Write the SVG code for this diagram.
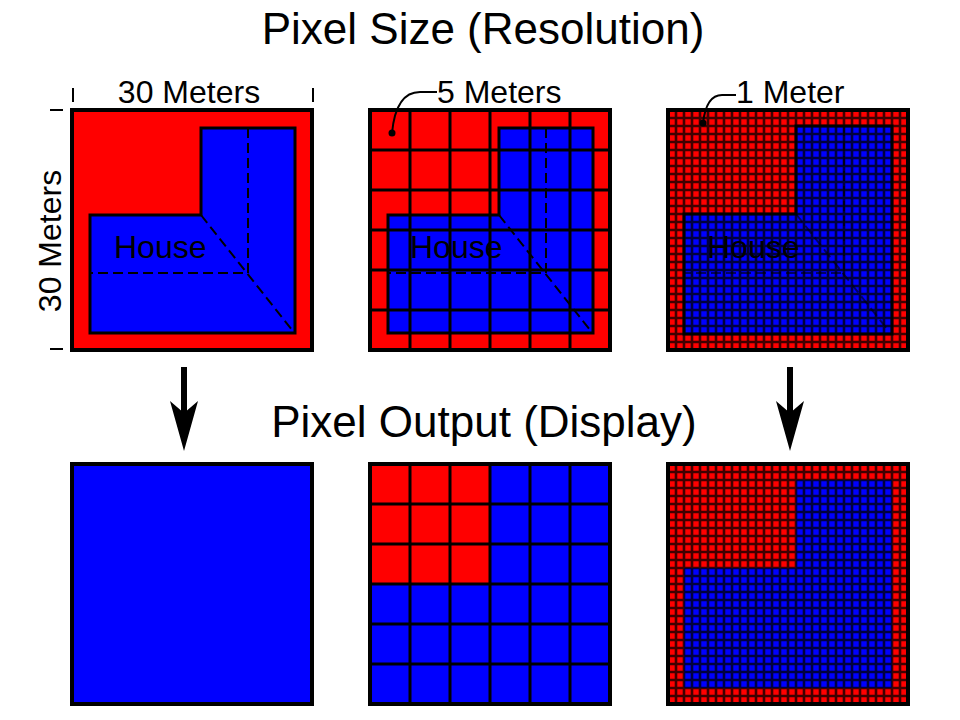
<svg xmlns="http://www.w3.org/2000/svg" width="960" height="720" viewBox="0 0 960 720">
<style>
  text { font-family: "Liberation Sans", Arial, sans-serif; fill: #000; }
  .title { font-size: 44px; text-anchor: middle; }
  .lbl { font-size: 32px; }
  .house { font-size: 32px; }
  .frame { fill: none; stroke: #000; stroke-width: 4; }
  .red { fill: #ff0000; }
  .blue { fill: #0000ff; }
  .lshape { fill: #0000ff; stroke: #000; stroke-width: 3; }
  .dash { fill: none; stroke: #000; stroke-width: 2; stroke-dasharray: 10 5; }
  .grid5 { fill: none; stroke: #000; stroke-width: 3; }
  .tick { stroke: #000; stroke-width: 2; }
  .leader { fill: none; stroke: #000; stroke-width: 2; }
</style>
<defs>
  <pattern id="g1m" x="-4" y="-4" width="8" height="8" patternUnits="userSpaceOnUse">
    <path d="M0,4H8M4,0V8" stroke="#000" stroke-width="2.6" stroke-opacity="0.75"/>
  </pattern>
  <path id="ell" d="M129,18H223V223H18V105H129Z"/>
  <path id="ellpix" d="M128,16H224V224H16V104H128Z"/>
</defs>
<rect width="960" height="720" fill="#fff"/>

<text class="title" x="483" y="44">Pixel Size (Resolution)</text>
<text class="title" x="484" y="437">Pixel Output (Display)</text>

<!-- Top-left: 30 m pixel -->
<g id="top30" transform="translate(72,110)">
  <rect class="red" x="0" y="0" width="240" height="240"/>
  <use href="#ell" class="lshape"/>
  <path class="dash" d="M176,18V163H18M129,105L220,220"/>
  <text class="house" x="42" y="148">House</text>
  <rect class="frame" x="0" y="0" width="240" height="240"/>
</g>
<g id="dim30">
  <line class="tick" x1="73" y1="88" x2="73" y2="102"/>
  <line class="tick" x1="313" y1="88" x2="313" y2="102"/>
  <text class="lbl" x="189" y="103" text-anchor="middle">30 Meters</text>
  <line class="tick" x1="50" y1="110" x2="63" y2="110"/>
  <line class="tick" x1="50" y1="349" x2="63" y2="349"/>
  <text class="lbl" transform="translate(61,241) rotate(-90)" text-anchor="middle">30 Meters</text>
</g>

<!-- Top-middle: 5 m pixels -->
<g id="top5" transform="translate(370,110)">
  <rect class="red" x="0" y="0" width="240" height="240"/>
  <use href="#ell" class="lshape"/>
  <path class="dash" d="M176,18V163H18M129,105L220,220"/>
  <text class="house" x="40" y="148">House</text>
  <path class="grid5" d="M40,0V240M80,0V240M120,0V240M160,0V240M200,0V240M0,40H240M0,80H240M0,120H240M0,160H240M0,200H240"/>
  <rect class="frame" x="0" y="0" width="240" height="240"/>
</g>
<g id="call5">
  <circle cx="392" cy="133" r="3.5" fill="#000"/>
  <path class="leader" d="M392,133C394,112 401,92 420,92L437,92"/>
  <text class="lbl" x="437" y="103">5 Meters</text>
</g>

<!-- Top-right: 1 m pixels -->
<g id="top1" transform="translate(668,110)">
  <rect class="red" x="0" y="0" width="240" height="240"/>
  <use href="#ellpix" class="lshape"/>
  <path class="dash" d="M176,16V163H16M128,104L220,220" stroke-opacity="0.6"/>
  <text class="house" x="39" y="148">House</text>
  <rect x="0" y="0" width="240" height="240" fill="url(#g1m)"/>
  <rect class="frame" x="0" y="0" width="240" height="240"/>
</g>
<g id="call1">
  <circle cx="703" cy="123" r="3.5" fill="#000"/>
  <path class="leader" d="M703,123C705,106 711,95 722,95L736,95"/>
  <text class="lbl" x="736" y="103">1 Meter</text>
</g>

<!-- Bottom-left: 30 m output -->
<g id="out30" transform="translate(72,464)">
  <rect class="blue" x="0" y="0" width="240" height="240"/>
  <rect class="frame" x="0" y="0" width="240" height="240"/>
</g>

<!-- Bottom-middle: 5 m output -->
<g id="out5" transform="translate(370,464)">
  <rect class="blue" x="0" y="0" width="240" height="240"/>
  <rect class="red" x="0" y="0" width="120" height="120"/>
  <path class="grid5" d="M40,0V240M80,0V240M120,0V240M160,0V240M200,0V240M0,40H240M0,80H240M0,120H240M0,160H240M0,200H240"/>
  <rect class="frame" x="0" y="0" width="240" height="240"/>
</g>

<!-- Bottom-right: 1 m output -->
<g id="out1" transform="translate(668,464)">
  <rect class="red" x="0" y="0" width="240" height="240"/>
  <use href="#ellpix" class="blue"/>
  <rect x="0" y="0" width="240" height="240" fill="url(#g1m)"/>
  <rect class="frame" x="0" y="0" width="240" height="240"/>
</g>

<!-- Connectors -->
<g id="connectors">
  <line x1="184" y1="367" x2="184" y2="415" stroke="#000" stroke-width="6"/>
  <path d="M170,401L184,413L198,401L184,451Z" fill="#000"/>
  <line x1="790" y1="367" x2="790" y2="415" stroke="#000" stroke-width="6"/>
  <path d="M776,401L790,413L804,401L790,451Z" fill="#000"/>
</g>
</svg>
